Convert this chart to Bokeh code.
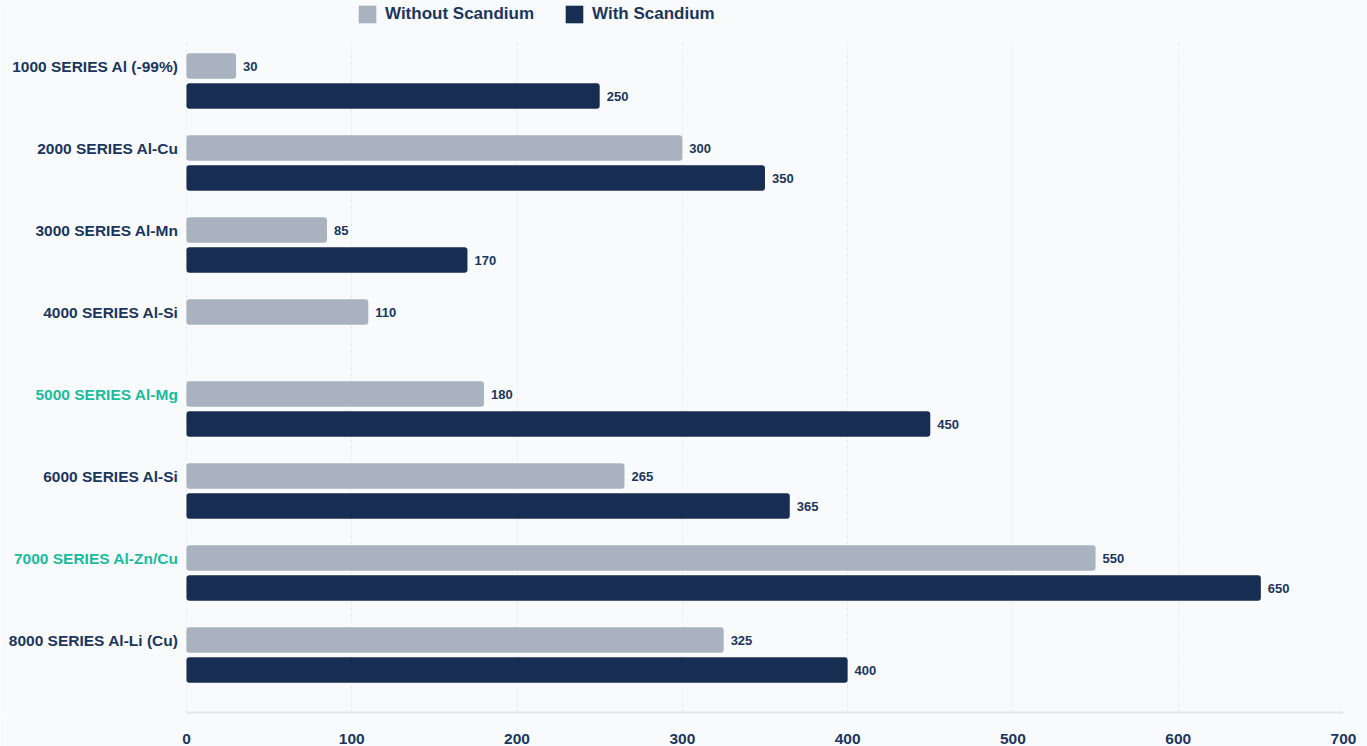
from bokeh.plotting import figure
from bokeh.models import (ColumnDataSource, LabelSet, Range1d, Legend, LegendItem,
                          FixedTicker)
from bokeh.core.properties import value
from bokeh.embed import file_html
from bokeh.resources import INLINE

# ---- data ----
categories = ["1000 SERIES Al (-99%)", "2000 SERIES Al-Cu", "3000 SERIES Al-Mn",
              "4000 SERIES Al-Si", "5000 SERIES Al-Mg", "6000 SERIES Al-Si",
              "7000 SERIES Al-Zn/Cu", "8000 SERIES Al-Li (Cu)"]
without_sc = [30, 300, 85, 110, 180, 265, 550, 325]
with_sc = [250, 350, 170, None, 450, 365, 650, 400]
highlighted = ["5000 SERIES Al-Mg", "7000 SERIES Al-Zn/Cu"]
x_ticks = [0, 100, 200, 300, 400, 500, 600, 700]
series_names = ["Without Scandium", "With Scandium"]

# ---- styles ----
BG = "#f8fafc"
GRAY = "#a8b3bf"
NAVY = "#172d52"
TEXT = "#1b365d"
TEAL = "#1abc9c"
FONT = "Liberation Sans"
OFF = 0.183
BAR_H = 0.312

idx = list(range(len(categories)))
src_wo = ColumnDataSource(dict(
    y=[i - OFF for i in idx], v=without_sc, t=[str(v) for v in without_sc]))
w_idx = [i for i in idx if with_sc[i] is not None]
src_w = ColumnDataSource(dict(
    y=[i + OFF for i in w_idx], v=[with_sc[i] for i in w_idx],
    t=[str(with_sc[i]) for i in w_idx]))
src_cat = ColumnDataSource(dict(
    y=[i - OFF for i in idx], x=[0] * len(idx), name=categories,
    color=[TEAL if c in highlighted else TEXT for c in categories]))

p = figure(width=1367, height=746, output_backend="svg", toolbar_location=None,
           x_range=Range1d(-112.5, 700), y_range=Range1d(7.701, -0.982),
           min_border_left=0, min_border_right=24, min_border_top=0,
           min_border_bottom=34)
p.background_fill_color = BG
p.border_fill_color = BG
p.outline_line_color = None

r_wo = p.hbar(y="y", left=0, right="v", height=BAR_H, source=src_wo,
              fill_color=GRAY, line_color=None, border_radius=3)
r_w = p.hbar(y="y", left=0, right="v", height=BAR_H, source=src_w,
             fill_color=NAVY, line_color=None, border_radius=3)

for s in (src_wo, src_w):
    p.add_layout(LabelSet(x="v", y="y", text="t", source=s, x_offset=7,
                          text_baseline="middle", text_align="left",
                          text_font=value(FONT), text_font_style="bold",
                          text_font_size="13px", text_color=TEXT))

p.text(x="x", y="y", text="name", source=src_cat, x_offset=-8,
       text_baseline="middle", text_align="right",
       text_font=value(FONT), text_font_style="bold",
       text_font_size="15.5px", text_color="color")

p.yaxis.visible = False
p.ygrid.grid_line_color = None
p.xgrid.grid_line_color = "#e6e9ee"
p.xgrid.grid_line_dash = "3 3"
p.xgrid.grid_line_width = 1
try:
    p.xgrid.cross_bounds = (-0.457, 7.701)
except Exception:
    pass

p.xaxis.ticker = FixedTicker(ticks=x_ticks)
p.xaxis.bounds = (0, 700)
p.xaxis.axis_line_color = "#e2e8f0"
p.xaxis.axis_line_width = 2
p.xaxis.major_tick_line_color = None
p.xaxis.minor_tick_line_color = None
p.xaxis.major_label_standoff = 15
p.xaxis.major_label_text_font = FONT
p.xaxis.major_label_text_font_style = "bold"
p.xaxis.major_label_text_font_size = "15.5px"
p.xaxis.major_label_text_color = TEXT

legend = Legend(items=[LegendItem(label=series_names[0], renderers=[r_wo]),
                       LegendItem(label=series_names[1], renderers=[r_w])],
                orientation="horizontal", location=(356, 687))
legend.padding = 0
legend.margin = 0
legend.spacing = 29
legend.label_standoff = 7
legend.glyph_width = 22
legend.glyph_height = 22
legend.label_height = 22
legend.label_text_font = FONT
legend.label_text_font_style = "bold"
legend.label_text_font_size = "17px"
legend.label_text_color = TEXT
legend.background_fill_alpha = 0
legend.border_line_color = None
p.add_layout(legend)

open("out.html", "w").write(file_html(p, INLINE))
